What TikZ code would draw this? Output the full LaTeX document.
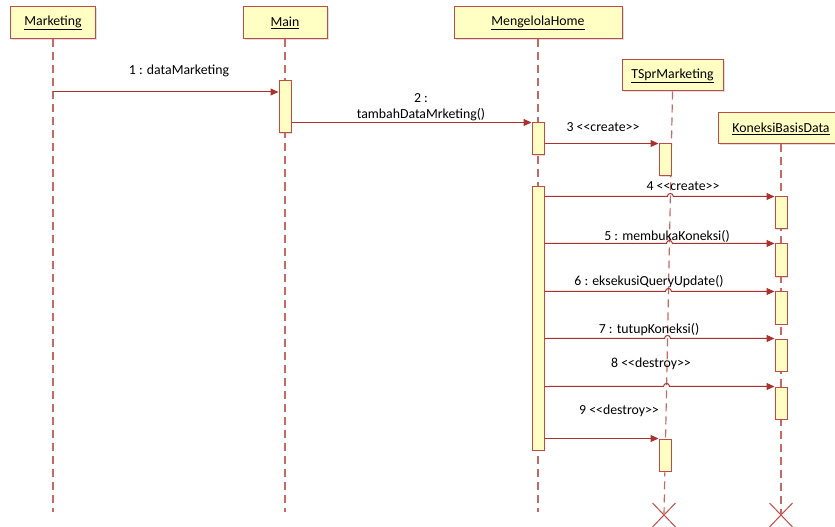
\documentclass[tikz,border=0pt]{standalone}
\usepackage{fontspec}
\setmainfont{Carlito}
\usetikzlibrary{arrows.meta,shadows,shapes.misc,calc}
\definecolor{bfill}{HTML}{FFFFC4}
\definecolor{bdraw}{HTML}{BE4B48}
\definecolor{mline}{HTML}{A8322D}
\definecolor{lline}{HTML}{C46A66}
\begin{document}
\begin{tikzpicture}[x=1bp,y=-1bp,
  font=\fontsize{13.8bp}{16bp}\selectfont,
  head/.style={draw=bdraw,fill=bfill,line width=1bp,inner sep=0pt,minimum height=32bp,
    drop shadow={shadow xshift=1.5bp,shadow yshift=-1.5bp,opacity=0.25}},
  act/.style={draw=bdraw,fill=bfill,line width=1bp,minimum width=12bp,inner sep=0pt,
    drop shadow={shadow xshift=1.2bp,shadow yshift=-1.2bp,opacity=0.25}},
  life/.style={draw=lline,line width=1.2bp,dash pattern=on 8bp off 5bp},
  msg/.style={draw=mline,line width=1bp,-{Triangle[length=8bp,width=7bp]}},
  lbl/.style={inner sep=0pt,text=black},
  kill/.style={cross out,draw=bdraw,line width=1bp,minimum width=22bp,minimum height=23bp,inner sep=0pt}]
\useasboundingbox (0,0) rectangle (835,527);
% heads
\node[head,minimum width=84bp] (mk) at (53,23) {\underline{Marketing}};
\node[head,minimum width=84bp] (mn) at (285,23) {\underline{Main}};
\node[head,minimum width=168bp] (mh) at (538,23) {\underline{MengelolaHome}};
\node[head,minimum width=101bp,minimum height=31bp] (ts) at (672.5,75.5) {\underline{TSprMarketing}};
\node[head,minimum width=126bp,minimum height=31bp] (kb) at (781,128.5) {\underline{KoneksiBasisData}};
% destruction marks
\node[kill] (tx) at (664,515) {};
\node[kill] (kx) at (781,515) {};
\coordinate (bot) at (0,512);
% lifelines
\draw[life] (mk.south) -- (mk.south |- bot);
\draw[life] (mn.south) -- (mn.south |- bot);
\draw[life] (mh.south) -- (mh.south |- bot);
\draw[life] (ts.south) -- (tx.center);
\draw[life] (kb.south) -- (kx.center);
% activations
\node[act,minimum height=52bp] (a1) at (285,107) {};
\node[act,minimum height=32bp] (a2) at (538,139) {};
\node[act,minimum height=32bp] (a3) at (665,160) {};
\node[act,minimum height=263bp] (a4) at (538,318.5) {};
\node[act,minimum height=32bp] (k1) at (781,213) {};
\node[act,minimum height=33bp] (k2) at (781,260.5) {};
\node[act,minimum height=32bp] (k3) at (781,308) {};
\node[act,minimum height=32bp] (k4) at (781,355) {};
\node[act,minimum height=32bp] (k5) at (781,403) {};
\node[act,minimum height=32bp] (a5) at (665,455) {};
% messages
\coordinate (m1) at (mk.south |- 0,92);
\draw[msg] (m1) -- (m1 -| a1.west);
\draw[msg] (a1.east |- a2.north) -- (a2.north west);
\draw[msg] (a2.east |- a3.north) -- (a3.north west);
\foreach \k in {1,...,5}{
  \coordinate (s\k) at (a4.east |- k\k.north);
  \coordinate (h\k) at (intersection of ts.south--tx.center and s\k--k\k.north west);
  \draw[msg] (s\k) -- ($(h\k)+(-3,0)$) .. controls +(0,-4) and +(0,-4) .. ($(h\k)+(3,0)$) -- (k\k.north west);
}
\draw[msg] (a4.east |- a5.north) -- (a5.north west);
% labels
\node[lbl] (l1) at (179,71) {1 : dataMarketing};
\node[lbl,align=center] (l2) at (421,107) {2 :\\tambahDataMrketing()};
\node[lbl] (l3) at (603,127) {3 {<}{<}create{>}{>}};
\node[lbl] (l4) at (683,186) {4 {<}{<}create{>}{>}};
\node[lbl] (l5) at (667,236) {5 : membukaKoneksi()};
\node[lbl] (l6) at (649,282) {6 : eksekusiQueryUpdate()};
\node[lbl] (l7) at (649,330) {7 : tutupKoneksi()};
\node[lbl] (l8) at (651,364) {8 {<}{<}destroy{>}{>}};
\node[lbl] (l9) at (619,411) {9 {<}{<}destroy{>}{>}};
\end{tikzpicture}
\end{document}
